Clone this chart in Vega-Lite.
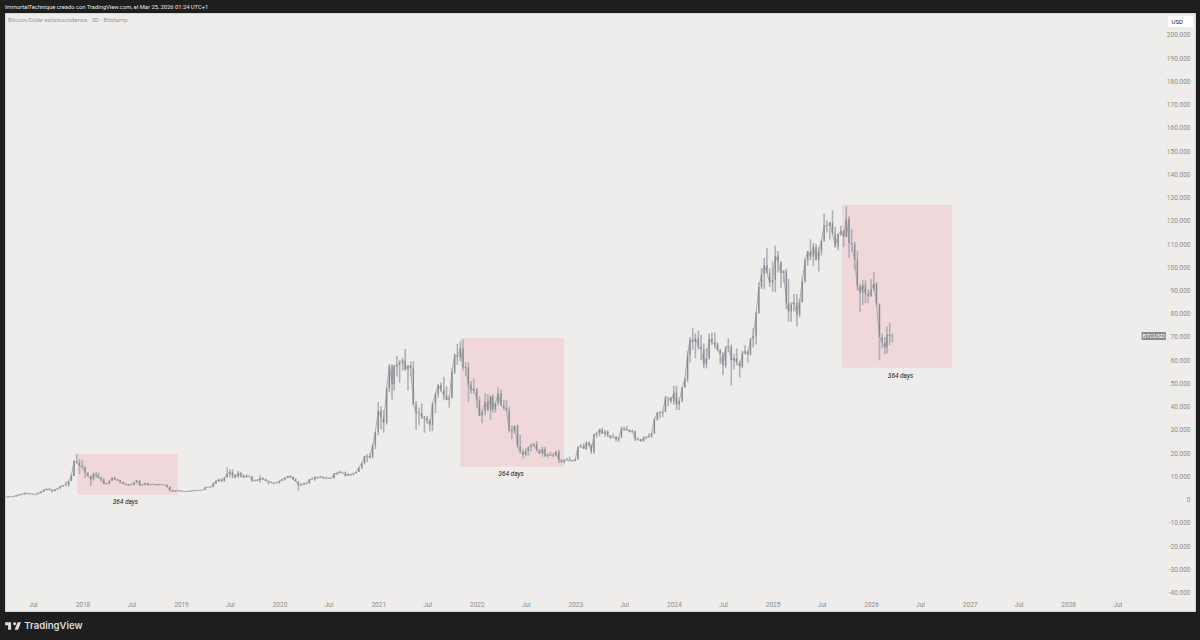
{"$schema":"https://vega.github.io/schema/vega-lite/v6.json","width":1190,"height":598,"autosize":{"type":"none"},"padding":{"left":5,"top":13,"right":5,"bottom":29},"background":"#1e1e1e","view":{"fill":"#eeedeb","stroke":"#d6d6d6","strokeWidth":1},"config":{"axis":{"labelOverlap":false,"labelSeparation":0,"labelBound":false}},"title":{"text":"ImmortalTechnique creado con TradingView.com, el Mar 25, 2026 01:24 UTC+1","anchor":"start","frame":"group","color":"#e8e8e8","font":"Roboto","fontSize":5.8,"fontWeight":"normal","offset":3.5},"datasets":{"candles":[
{"d":"2017-03-21","o":1050,"h":1120,"l":930,"c":1000},{"d":"2017-04-01","o":1000,"h":1210,"l":1000,"c":1190},{"d":"2017-04-11","o":1190,"h":1220,"l":1130,"c":1210},{"d":"2017-04-21","o":1210,"h":1350,"l":1200,"c":1330},{"d":"2017-05-01","o":1330,"h":1800,"l":1320,"c":1780},{"d":"2017-05-11","o":1780,"h":2200,"l":1750,"c":2050},{"d":"2017-05-21","o":2050,"h":2750,"l":1950,"c":2200},{"d":"2017-06-01","o":2200,"h":2950,"l":2200,"c":2780},{"d":"2017-06-11","o":2780,"h":3000,"l":2200,"c":2600},{"d":"2017-06-21","o":2600,"h":2800,"l":2300,"c":2480},{"d":"2017-07-01","o":2480,"h":2650,"l":2250,"c":2350},{"d":"2017-07-11","o":2350,"h":2400,"l":1850,"c":2300},{"d":"2017-07-21","o":2300,"h":2900,"l":2250,"c":2850},{"d":"2017-08-01","o":2850,"h":3450,"l":2650,"c":3400},{"d":"2017-08-11","o":3400,"h":4400,"l":3350,"c":4100},{"d":"2017-08-21","o":4100,"h":4700,"l":3950,"c":4600},{"d":"2017-09-01","o":4600,"h":4980,"l":4100,"c":4200},{"d":"2017-09-11","o":4200,"h":4350,"l":2980,"c":3700},{"d":"2017-09-21","o":3700,"h":4350,"l":3600,"c":4300},{"d":"2017-10-01","o":4300,"h":5000,"l":4200,"c":4800},{"d":"2017-10-11","o":4800,"h":5850,"l":4750,"c":5700},{"d":"2017-10-21","o":5700,"h":6300,"l":5400,"c":6100},{"d":"2017-11-01","o":6100,"h":7800,"l":6000,"c":6400},{"d":"2017-11-11","o":6400,"h":8000,"l":5500,"c":8000},{"d":"2017-11-21","o":8000,"h":10900,"l":8000,"c":10200},{"d":"2017-12-01","o":10200,"h":17000,"l":10000,"c":16500},{"d":"2017-12-11","o":16500,"h":19700,"l":15500,"c":16000},{"d":"2017-12-21","o":16000,"h":17500,"l":11000,"c":14500},
{"d":"2018-01-01","o":14500,"h":17200,"l":13000,"c":14000},{"d":"2018-01-11","o":14000,"h":14400,"l":9200,"c":11500},{"d":"2018-01-21","o":11500,"h":11900,"l":9800,"c":10200},{"d":"2018-02-01","o":10200,"h":10300,"l":6000,"c":8700},{"d":"2018-02-11","o":8700,"h":11700,"l":8200,"c":11000},{"d":"2018-02-21","o":11000,"h":11700,"l":9400,"c":10500},{"d":"2018-03-01","o":10500,"h":11700,"l":9300,"c":9500},{"d":"2018-03-11","o":9500,"h":9900,"l":7700,"c":8600},{"d":"2018-03-21","o":8600,"h":9100,"l":6600,"c":6900},{"d":"2018-04-01","o":6900,"h":7200,"l":6400,"c":6800},{"d":"2018-04-11","o":6800,"h":8200,"l":6700,"c":8000},{"d":"2018-04-21","o":8000,"h":9700,"l":8000,"c":9300},{"d":"2018-05-01","o":9300,"h":9950,"l":8500,"c":8600},{"d":"2018-05-11","o":8600,"h":8900,"l":8000,"c":8400},{"d":"2018-05-21","o":8400,"h":8500,"l":7000,"c":7500},{"d":"2018-06-01","o":7500,"h":7800,"l":6700,"c":6800},{"d":"2018-06-11","o":6800,"h":6800,"l":6100,"c":6700},{"d":"2018-06-21","o":6700,"h":6800,"l":5800,"c":6300},{"d":"2018-07-01","o":6300,"h":6800,"l":6200,"c":6350},{"d":"2018-07-11","o":6350,"h":7500,"l":6100,"c":7400},{"d":"2018-07-21","o":7400,"h":8500,"l":7300,"c":8200},{"d":"2018-08-01","o":8200,"h":8200,"l":6000,"c":6300},{"d":"2018-08-11","o":6300,"h":6600,"l":5900,"c":6300},{"d":"2018-08-21","o":6300,"h":7200,"l":6200,"c":7000},{"d":"2018-09-01","o":7000,"h":7400,"l":6200,"c":6300},{"d":"2018-09-11","o":6300,"h":6600,"l":6100,"c":6500},{"d":"2018-09-21","o":6500,"h":6800,"l":6400,"c":6600},{"d":"2018-10-01","o":6600,"h":6700,"l":6200,"c":6300},{"d":"2018-10-11","o":6300,"h":6900,"l":6200,"c":6450},{"d":"2018-10-21","o":6450,"h":6600,"l":6300,"c":6350},{"d":"2018-11-01","o":6350,"h":6600,"l":6250,"c":6350},{"d":"2018-11-11","o":6350,"h":6450,"l":5300,"c":5500},{"d":"2018-11-21","o":5500,"h":5600,"l":3500,"c":4000},{"d":"2018-12-01","o":4000,"h":4300,"l":3500,"c":3550},{"d":"2018-12-11","o":3550,"h":3900,"l":3200,"c":3850},{"d":"2018-12-21","o":3850,"h":4200,"l":3600,"c":3750},
{"d":"2019-01-01","o":3750,"h":4100,"l":3600,"c":3650},{"d":"2019-01-11","o":3650,"h":3700,"l":3450,"c":3550},{"d":"2019-01-21","o":3550,"h":3650,"l":3400,"c":3450},{"d":"2019-02-01","o":3450,"h":3700,"l":3400,"c":3600},{"d":"2019-02-11","o":3600,"h":3950,"l":3550,"c":3900},{"d":"2019-02-21","o":3900,"h":4200,"l":3700,"c":3850},{"d":"2019-03-01","o":3850,"h":3950,"l":3700,"c":3900},{"d":"2019-03-11","o":3900,"h":4050,"l":3800,"c":4000},{"d":"2019-03-21","o":4000,"h":4150,"l":3950,"c":4100},{"d":"2019-04-01","o":4100,"h":5300,"l":4100,"c":5200},{"d":"2019-04-11","o":5200,"h":5400,"l":4950,"c":5300},{"d":"2019-04-21","o":5300,"h":5650,"l":5200,"c":5400},{"d":"2019-05-01","o":5400,"h":7400,"l":5350,"c":6900},{"d":"2019-05-11","o":6900,"h":8400,"l":6600,"c":8000},{"d":"2019-05-21","o":8000,"h":9000,"l":7600,"c":8600},{"d":"2019-06-01","o":8600,"h":9100,"l":7450,"c":8000},{"d":"2019-06-11","o":8000,"h":9600,"l":7700,"c":9500},{"d":"2019-06-21","o":9500,"h":13900,"l":9500,"c":11000},{"d":"2019-07-01","o":11000,"h":12900,"l":9600,"c":11800},{"d":"2019-07-11","o":11800,"h":13100,"l":9100,"c":10500},{"d":"2019-07-21","o":10500,"h":10900,"l":9200,"c":9700},{"d":"2019-08-01","o":9700,"h":12300,"l":9500,"c":11500},{"d":"2019-08-11","o":11500,"h":12000,"l":9500,"c":10200},{"d":"2019-08-21","o":10200,"h":10900,"l":9400,"c":9600},{"d":"2019-09-01","o":9600,"h":10900,"l":9500,"c":10100},{"d":"2019-09-11","o":10100,"h":10500,"l":9900,"c":10000},{"d":"2019-09-21","o":10000,"h":10100,"l":7700,"c":8200},{"d":"2019-10-01","o":8200,"h":8500,"l":7800,"c":8400},{"d":"2019-10-11","o":8400,"h":8800,"l":7900,"c":8200},{"d":"2019-10-21","o":8200,"h":10500,"l":7300,"c":9200},{"d":"2019-11-01","o":9200,"h":9550,"l":8700,"c":8800},{"d":"2019-11-11","o":8800,"h":9100,"l":8000,"c":8100},{"d":"2019-11-21","o":8100,"h":8100,"l":6550,"c":7600},{"d":"2019-12-01","o":7600,"h":7850,"l":7200,"c":7250},{"d":"2019-12-11","o":7250,"h":7400,"l":6450,"c":7150},{"d":"2019-12-21","o":7150,"h":7600,"l":7050,"c":7200},
{"d":"2020-01-01","o":7200,"h":8200,"l":6850,"c":8000},{"d":"2020-01-11","o":8000,"h":9000,"l":8000,"c":8700},{"d":"2020-01-21","o":8700,"h":9500,"l":8250,"c":9350},{"d":"2020-02-01","o":9350,"h":10200,"l":9150,"c":10100},{"d":"2020-02-11","o":10100,"h":10500,"l":9500,"c":9700},{"d":"2020-02-21","o":9700,"h":10000,"l":8500,"c":8600},{"d":"2020-03-01","o":8600,"h":9200,"l":7600,"c":7900},{"d":"2020-03-11","o":7900,"h":7950,"l":3850,"c":6200},{"d":"2020-03-21","o":6200,"h":7000,"l":5700,"c":6400},{"d":"2020-04-01","o":6400,"h":7200,"l":6200,"c":6900},{"d":"2020-04-11","o":6900,"h":7200,"l":6500,"c":7100},{"d":"2020-04-21","o":7100,"h":8800,"l":6800,"c":8700},{"d":"2020-05-01","o":8700,"h":9500,"l":8400,"c":8700},{"d":"2020-05-11","o":8700,"h":9900,"l":8100,"c":9700},{"d":"2020-05-21","o":9700,"h":9700,"l":8800,"c":9500},{"d":"2020-06-01","o":9500,"h":10300,"l":9300,"c":9800},{"d":"2020-06-11","o":9800,"h":9950,"l":9000,"c":9350},{"d":"2020-06-21","o":9350,"h":9800,"l":8900,"c":9150},{"d":"2020-07-01","o":9150,"h":9450,"l":8900,"c":9250},{"d":"2020-07-11","o":9250,"h":9400,"l":9050,"c":9200},{"d":"2020-07-21","o":9200,"h":11400,"l":9200,"c":11100},{"d":"2020-08-01","o":11100,"h":12000,"l":10600,"c":11400},{"d":"2020-08-11","o":11400,"h":12450,"l":11100,"c":11800},{"d":"2020-08-21","o":11800,"h":12000,"l":11200,"c":11700},{"d":"2020-09-01","o":11700,"h":12050,"l":10000,"c":10300},{"d":"2020-09-11","o":10300,"h":11200,"l":10200,"c":10900},{"d":"2020-09-21","o":10900,"h":10950,"l":10150,"c":10800},{"d":"2020-10-01","o":10800,"h":11450,"l":10450,"c":11300},{"d":"2020-10-11","o":11300,"h":12000,"l":11200,"c":11900},{"d":"2020-10-21","o":11900,"h":13850,"l":11900,"c":13800},{"d":"2020-11-01","o":13800,"h":16000,"l":13200,"c":15700},{"d":"2020-11-11","o":15700,"h":18800,"l":15200,"c":18600},{"d":"2020-11-21","o":18600,"h":19500,"l":16200,"c":18800},{"d":"2020-12-01","o":18800,"h":19900,"l":17600,"c":18300},{"d":"2020-12-11","o":18300,"h":24000,"l":17650,"c":23400},{"d":"2020-12-21","o":23400,"h":29000,"l":21800,"c":29000},
{"d":"2021-01-01","o":29000,"h":42000,"l":27700,"c":38200},{"d":"2021-01-11","o":38200,"h":40100,"l":30300,"c":35500},{"d":"2021-01-21","o":35500,"h":38500,"l":28800,"c":33100},{"d":"2021-02-01","o":33100,"h":48200,"l":32300,"c":47900},{"d":"2021-02-11","o":47900,"h":58400,"l":46200,"c":57500},{"d":"2021-02-21","o":57500,"h":58300,"l":43000,"c":49600},{"d":"2021-03-01","o":49600,"h":58000,"l":47000,"c":57300},{"d":"2021-03-11","o":57300,"h":61800,"l":53000,"c":58000},{"d":"2021-03-21","o":58000,"h":60000,"l":50400,"c":59000},{"d":"2021-04-01","o":59000,"h":61000,"l":55500,"c":60000},{"d":"2021-04-11","o":60000,"h":64900,"l":55500,"c":56000},{"d":"2021-04-21","o":56000,"h":57800,"l":47000,"c":57700},{"d":"2021-05-01","o":57700,"h":59500,"l":52900,"c":56700},{"d":"2021-05-11","o":56700,"h":59600,"l":40700,"c":41000},{"d":"2021-05-21","o":41000,"h":42400,"l":30000,"c":37300},{"d":"2021-06-01","o":37300,"h":39500,"l":32000,"c":37300},{"d":"2021-06-11","o":37300,"h":41300,"l":34700,"c":35600},{"d":"2021-06-21","o":35600,"h":36000,"l":28800,"c":35000},{"d":"2021-07-01","o":35000,"h":36000,"l":32700,"c":34200},{"d":"2021-07-11","o":34200,"h":34700,"l":29300,"c":32200},{"d":"2021-07-21","o":32200,"h":41500,"l":29500,"c":41500},{"d":"2021-08-01","o":41500,"h":46000,"l":37300,"c":45600},{"d":"2021-08-11","o":45600,"h":49800,"l":44000,"c":49300},{"d":"2021-08-21","o":49300,"h":50400,"l":46400,"c":47100},{"d":"2021-09-01","o":47100,"h":52900,"l":42800,"c":44900},{"d":"2021-09-11","o":44900,"h":48800,"l":42800,"c":43000},{"d":"2021-09-21","o":43000,"h":45000,"l":39600,"c":43800},{"d":"2021-10-01","o":43800,"h":56500,"l":43500,"c":54900},{"d":"2021-10-11","o":54900,"h":62900,"l":54000,"c":62100},{"d":"2021-10-21","o":62100,"h":67000,"l":58000,"c":61300},{"d":"2021-11-01","o":61300,"h":68000,"l":59500,"c":65000},{"d":"2021-11-11","o":65000,"h":69000,"l":55600,"c":56900},{"d":"2021-11-21","o":56900,"h":59000,"l":53300,"c":57000},{"d":"2021-12-01","o":57000,"h":59200,"l":42000,"c":49400},{"d":"2021-12-11","o":49400,"h":51000,"l":45600,"c":47000},{"d":"2021-12-21","o":47000,"h":52100,"l":45600,"c":47700},
{"d":"2022-01-01","o":47700,"h":47900,"l":39600,"c":42800},{"d":"2022-01-11","o":42800,"h":44400,"l":36000,"c":36100},{"d":"2022-01-21","o":36100,"h":39000,"l":32900,"c":37900},{"d":"2022-02-01","o":37900,"h":45800,"l":36200,"c":42300},{"d":"2022-02-11","o":42300,"h":45400,"l":38000,"c":38700},{"d":"2022-02-21","o":38700,"h":44800,"l":34300,"c":44400},{"d":"2022-03-01","o":44400,"h":45400,"l":37600,"c":38700},{"d":"2022-03-11","o":38700,"h":42000,"l":37500,"c":41500},{"d":"2022-03-21","o":41500,"h":48200,"l":40500,"c":45800},{"d":"2022-04-01","o":45800,"h":47400,"l":40300,"c":40500},{"d":"2022-04-11","o":40500,"h":42900,"l":38500,"c":39400},{"d":"2022-04-21","o":39400,"h":42900,"l":37600,"c":38500},{"d":"2022-05-01","o":38500,"h":40000,"l":29000,"c":30000},{"d":"2022-05-11","o":30000,"h":32000,"l":26000,"c":29400},{"d":"2022-05-21","o":29400,"h":31900,"l":28300,"c":31800},{"d":"2022-06-01","o":31800,"h":32400,"l":22500,"c":23000},{"d":"2022-06-11","o":23000,"h":28000,"l":20000,"c":20500},{"d":"2022-06-21","o":20500,"h":21900,"l":17600,"c":19200},{"d":"2022-07-01","o":19200,"h":22000,"l":18600,"c":20900},{"d":"2022-07-11","o":20900,"h":22500,"l":18900,"c":22500},{"d":"2022-07-21","o":22500,"h":24300,"l":20700,"c":23300},{"d":"2022-08-01","o":23300,"h":24300,"l":22500,"c":23900},{"d":"2022-08-11","o":23900,"h":25200,"l":20800,"c":21100},{"d":"2022-08-21","o":21100,"h":21800,"l":19600,"c":19800},{"d":"2022-09-01","o":19800,"h":22800,"l":18500,"c":21800},{"d":"2022-09-11","o":21800,"h":22800,"l":18300,"c":18900},{"d":"2022-09-21","o":18900,"h":19900,"l":18100,"c":19300},{"d":"2022-10-01","o":19300,"h":20500,"l":18900,"c":19100},{"d":"2022-10-11","o":19100,"h":19900,"l":18200,"c":19000},{"d":"2022-10-21","o":19000,"h":21000,"l":18700,"c":20600},{"d":"2022-11-01","o":20600,"h":21500,"l":15600,"c":17000},{"d":"2022-11-11","o":17000,"h":17600,"l":15800,"c":16300},{"d":"2022-11-21","o":16300,"h":17200,"l":15500,"c":17000},{"d":"2022-12-01","o":17000,"h":18000,"l":16700,"c":17100},{"d":"2022-12-11","o":17100,"h":18400,"l":16500,"c":16800},{"d":"2022-12-21","o":16800,"h":17100,"l":16300,"c":16600},
{"d":"2023-01-01","o":16600,"h":17500,"l":16500,"c":17400},{"d":"2023-01-11","o":17400,"h":22700,"l":17300,"c":22700},{"d":"2023-01-21","o":22700,"h":23800,"l":22300,"c":23100},{"d":"2023-02-01","o":23100,"h":24200,"l":21800,"c":21800},{"d":"2023-02-11","o":21800,"h":25200,"l":21400,"c":24500},{"d":"2023-02-21","o":24500,"h":25000,"l":22800,"c":23500},{"d":"2023-03-01","o":23500,"h":23900,"l":19600,"c":20600},{"d":"2023-03-11","o":20600,"h":28500,"l":19600,"c":27900},{"d":"2023-03-21","o":27900,"h":29200,"l":26600,"c":28500},{"d":"2023-04-01","o":28500,"h":30500,"l":27200,"c":30200},{"d":"2023-04-11","o":30200,"h":31000,"l":28300,"c":28400},{"d":"2023-04-21","o":28400,"h":30000,"l":27000,"c":29200},{"d":"2023-05-01","o":29200,"h":29800,"l":26800,"c":27700},{"d":"2023-05-11","o":27700,"h":27800,"l":26000,"c":26800},{"d":"2023-05-21","o":26800,"h":28400,"l":26400,"c":27100},{"d":"2023-06-01","o":27100,"h":27400,"l":25000,"c":25900},{"d":"2023-06-11","o":25900,"h":26800,"l":24800,"c":26800},{"d":"2023-06-21","o":26800,"h":31400,"l":26600,"c":30500},{"d":"2023-07-01","o":30500,"h":31500,"l":29500,"c":30400},{"d":"2023-07-11","o":30400,"h":31800,"l":29700,"c":30000},{"d":"2023-07-21","o":30000,"h":30300,"l":29000,"c":29200},{"d":"2023-08-01","o":29200,"h":30200,"l":28700,"c":29400},{"d":"2023-08-11","o":29400,"h":29700,"l":25200,"c":26000},{"d":"2023-08-21","o":26000,"h":26800,"l":25400,"c":26100},{"d":"2023-09-01","o":26100,"h":26100,"l":24900,"c":25100},{"d":"2023-09-11","o":25100,"h":27200,"l":25000,"c":26600},{"d":"2023-09-21","o":26600,"h":27000,"l":26000,"c":26900},{"d":"2023-10-01","o":26900,"h":28600,"l":26600,"c":27400},{"d":"2023-10-11","o":27400,"h":28500,"l":26500,"c":28500},{"d":"2023-10-21","o":28500,"h":35000,"l":28400,"c":34500},{"d":"2023-11-01","o":34500,"h":37900,"l":34000,"c":37300},{"d":"2023-11-11","o":37300,"h":38000,"l":35000,"c":37400},{"d":"2023-11-21","o":37400,"h":38400,"l":35600,"c":37700},{"d":"2023-12-01","o":37700,"h":44700,"l":37600,"c":43800},{"d":"2023-12-11","o":43800,"h":44000,"l":40200,"c":44000},{"d":"2023-12-21","o":44000,"h":44300,"l":41500,"c":42300},
{"d":"2024-01-01","o":42300,"h":49000,"l":40800,"c":46100},{"d":"2024-01-11","o":46100,"h":48900,"l":38500,"c":41000},{"d":"2024-01-21","o":41000,"h":44000,"l":38500,"c":42500},{"d":"2024-02-01","o":42500,"h":48500,"l":41800,"c":48300},{"d":"2024-02-11","o":48300,"h":52800,"l":48100,"c":51800},{"d":"2024-02-21","o":51800,"h":64000,"l":50500,"c":62400},{"d":"2024-03-01","o":62400,"h":70000,"l":59000,"c":68800},{"d":"2024-03-11","o":68800,"h":73800,"l":64500,"c":67800},{"d":"2024-03-21","o":67800,"h":71500,"l":60800,"c":69500},{"d":"2024-04-01","o":69500,"h":72700,"l":64500,"c":65800},{"d":"2024-04-11","o":65800,"h":71000,"l":60000,"c":64800},{"d":"2024-04-21","o":64800,"h":67200,"l":56500,"c":58200},{"d":"2024-05-01","o":58200,"h":65000,"l":56500,"c":61000},{"d":"2024-05-11","o":61000,"h":71500,"l":60200,"c":69200},{"d":"2024-05-21","o":69200,"h":71900,"l":66600,"c":67700},{"d":"2024-06-01","o":67700,"h":71900,"l":65000,"c":66700},{"d":"2024-06-11","o":66700,"h":67800,"l":64000,"c":64300},{"d":"2024-06-21","o":64300,"h":65000,"l":58400,"c":62700},{"d":"2024-07-01","o":62700,"h":63500,"l":53500,"c":57800},{"d":"2024-07-11","o":57800,"h":66000,"l":56600,"c":65500},{"d":"2024-07-21","o":65500,"h":69500,"l":63500,"c":66000},{"d":"2024-08-01","o":66000,"h":66800,"l":49000,"c":60000},{"d":"2024-08-11","o":60000,"h":62700,"l":56000,"c":61000},{"d":"2024-08-21","o":61000,"h":65000,"l":57800,"c":59100},{"d":"2024-09-01","o":59100,"h":59800,"l":52500,"c":57300},{"d":"2024-09-11","o":57300,"h":64000,"l":56500,"c":63000},{"d":"2024-09-21","o":63000,"h":66500,"l":62300,"c":63800},{"d":"2024-10-01","o":63800,"h":64500,"l":58900,"c":62500},{"d":"2024-10-11","o":62500,"h":69500,"l":62000,"c":69000},{"d":"2024-10-21","o":69000,"h":73600,"l":65500,"c":70300},{"d":"2024-11-01","o":70300,"h":81000,"l":66800,"c":80300},{"d":"2024-11-11","o":80300,"h":93500,"l":80000,"c":91500},{"d":"2024-11-21","o":91500,"h":99800,"l":90700,"c":97000},{"d":"2024-12-01","o":97000,"h":104000,"l":90500,"c":101000},{"d":"2024-12-11","o":101000,"h":108300,"l":97300,"c":97500},{"d":"2024-12-21","o":97500,"h":99500,"l":91500,"c":93500},
{"d":"2025-01-01","o":93500,"h":102500,"l":89500,"c":94500},{"d":"2025-01-11","o":94500,"h":109400,"l":89200,"c":105000},{"d":"2025-01-21","o":105000,"h":107000,"l":97800,"c":102400},{"d":"2025-02-01","o":102400,"h":102500,"l":91200,"c":97500},{"d":"2025-02-11","o":97500,"h":98800,"l":93500,"c":98300},{"d":"2025-02-21","o":98300,"h":99500,"l":82000,"c":84500},{"d":"2025-03-01","o":84500,"h":95000,"l":76600,"c":81000},{"d":"2025-03-11","o":81000,"h":85000,"l":76500,"c":84000},{"d":"2025-03-21","o":84000,"h":88500,"l":81000,"c":85000},{"d":"2025-04-01","o":85000,"h":88500,"l":74500,"c":79500},{"d":"2025-04-11","o":79500,"h":86500,"l":78500,"c":85200},{"d":"2025-04-21","o":85200,"h":95700,"l":84800,"c":94000},{"d":"2025-05-01","o":94000,"h":104000,"l":93300,"c":103000},{"d":"2025-05-11","o":103000,"h":107000,"l":100700,"c":106800},{"d":"2025-05-21","o":106800,"h":112000,"l":103000,"c":104500},{"d":"2025-06-01","o":104500,"h":110400,"l":100500,"c":109000},{"d":"2025-06-11","o":109000,"h":110000,"l":102800,"c":103300},{"d":"2025-06-21","o":103300,"h":108800,"l":98200,"c":107000},{"d":"2025-07-01","o":107000,"h":112000,"l":105100,"c":111500},{"d":"2025-07-11","o":111500,"h":123200,"l":111000,"c":118000},{"d":"2025-07-21","o":118000,"h":120300,"l":115000,"c":117800},{"d":"2025-08-01","o":117800,"h":119500,"l":112000,"c":119200},{"d":"2025-08-11","o":119200,"h":124500,"l":114000,"c":114500},{"d":"2025-08-21","o":114500,"h":117400,"l":108500,"c":109000},{"d":"2025-09-01","o":109000,"h":114500,"l":107300,"c":114300},{"d":"2025-09-11","o":114300,"h":117900,"l":113500,"c":115700},{"d":"2025-09-21","o":115700,"h":116000,"l":108600,"c":113000},{"d":"2025-10-01","o":113000,"h":126200,"l":113000,"c":121000},{"d":"2025-10-11","o":121000,"h":122000,"l":104000,"c":110500},{"d":"2025-10-21","o":110500,"h":116500,"l":106500,"c":110000},{"d":"2025-11-01","o":110000,"h":111000,"l":98900,"c":103000},{"d":"2025-11-11","o":103000,"h":107000,"l":90000,"c":92000},{"d":"2025-11-21","o":92000,"h":93000,"l":80600,"c":89000},{"d":"2025-12-01","o":89000,"h":94500,"l":83800,"c":92500},{"d":"2025-12-11","o":92500,"h":94500,"l":84500,"c":88500},{"d":"2025-12-21","o":88500,"h":90500,"l":84500,"c":87500},
{"d":"2026-01-01","o":87500,"h":94800,"l":87200,"c":90500},{"d":"2026-01-11","o":90500,"h":97900,"l":89800,"c":93000},{"d":"2026-01-21","o":93000,"h":93500,"l":83500,"c":84000},{"d":"2026-02-01","o":84000,"h":84500,"l":60000,"c":70000},{"d":"2026-02-11","o":70000,"h":71500,"l":65000,"c":67500},{"d":"2026-02-21","o":67500,"h":70000,"l":62500,"c":65500},{"d":"2026-03-01","o":65500,"h":74500,"l":63000,"c":71000},{"d":"2026-03-11","o":71000,"h":76000,"l":66500,"c":70500},{"d":"2026-03-21","o":70500,"h":71500,"l":67500,"c":70400}
]},"layer":[
{"data":{"values":[{"start":"2017-12-14","end":"2018-12-20","top":19630,"bottom":2110},{"start":"2021-11-01","end":"2022-11-20","top":69570,"bottom":14160},{"start":"2025-09-16","end":"2026-10-27","top":126950,"bottom":56780}]},"mark":{"type":"rect","fill":"#efd7da"},"encoding":{"x":{"field":"start","type":"temporal","title":null,"scale":{"type":"utc","domain":["2017-03-20","2029-04-15"]},"axis":{"values":["2017-07-01","2018-01-01","2018-07-01","2019-01-01","2019-07-01","2020-01-01","2020-07-01","2021-01-01","2021-07-01","2022-01-01","2022-07-01","2023-01-01","2023-07-01","2024-01-01","2024-07-01","2025-01-01","2025-07-01","2026-01-01","2026-07-01","2027-01-01","2027-07-01","2028-01-01","2028-07-01"],"labelExpr":"utcmonth(datum.value)==0?utcFormat(datum.value,'%Y'):'Jul'","grid":false,"ticks":false,"domain":false,"offset":-7,"labelPadding":0,"labelBaseline":"middle","labelColor":"#8c8c8c","labelFont":"Roboto","labelFontSize":6.5,"labelOverlap":false,"labelFlush":false}},"x2":{"field":"end"},"y":{"field":"top","type":"quantitative","title":null,"scale":{"domain":[-47960,209470],"nice":false,"zero":false},"axis":{"orient":"right","tickCount":26,"values":[-40000,-30000,-20000,-10000,0,10000,20000,30000,40000,50000,60000,70000,80000,90000,100000,110000,120000,130000,140000,150000,160000,170000,180000,190000,200000],"labelExpr":"replace(replace(format(datum.value,','),/,/g,'.'),'−','-')","grid":false,"ticks":false,"domain":false,"labelAlign":"right","labelPadding":-5,"labelBaseline":"middle","labelColor":"#8c8c8c","labelFont":"Roboto","labelFontSize":6.5,"labelOverlap":false,"labelFlush":false}},"y2":{"field":"bottom"}}},
{"data":{"name":"candles"},"mark":{"type":"line","color":"#9a9ca2","strokeWidth":0.8},"encoding":{"x":{"field":"d","type":"temporal"},"y":{"field":"c","type":"quantitative"}}},
{"data":{"name":"candles"},"mark":{"type":"rule","color":"#aeb0b5","strokeWidth":1.6},"encoding":{"x":{"field":"d","type":"temporal"},"y":{"field":"l","type":"quantitative"},"y2":{"field":"h"}}},
{"data":{"name":"candles"},"mark":{"type":"rule","color":"#888a92","strokeWidth":1.2},"encoding":{"x":{"field":"d","type":"temporal"},"y":{"field":"o","type":"quantitative"},"y2":{"field":"c"}}},
{"data":{"values":[{"d":"2018-06-09","v":-1200},{"d":"2022-05-08","v":11050},{"d":"2026-04-20","v":53400}]},"mark":{"type":"text","text":"364 days","font":"Roboto","fontStyle":"italic","fontSize":6.5,"color":"#1a1a1a","baseline":"middle"},"encoding":{"x":{"field":"d","type":"temporal"},"y":{"field":"v","type":"quantitative"}}},
{"data":{"values":[{"d":"2017-03-31","v":206470,"t":"Bitcoin/Dólar estadounidense · 3D · Bitstamp"}]},"mark":{"type":"text","font":"Roboto","fontSize":6,"color":"#9a9a9a","align":"left","baseline":"middle"},"encoding":{"x":{"field":"d","type":"temporal"},"y":{"field":"v","type":"quantitative"},"text":{"field":"t"}}},
{"data":{"values":[{"start":"2029-01-05","end":"2029-04-08","top":208200,"bottom":203450}]},"mark":{"type":"rect","fill":"#ffffff"},"encoding":{"x":{"field":"start","type":"temporal"},"x2":{"field":"end"},"y":{"field":"top","type":"quantitative"},"y2":{"field":"bottom"}}},
{"data":{"values":[{"start":"2028-09-29","end":"2028-12-28","top":72150,"bottom":68700}]},"mark":{"type":"rect","fill":"#8b8b90"},"encoding":{"x":{"field":"start","type":"temporal"},"x2":{"field":"end"},"y":{"field":"top","type":"quantitative"},"y2":{"field":"bottom"}}},
{"data":{"values":[{"d":"2029-02-08","v":205800,"t":"USD"}]},"mark":{"type":"text","font":"Roboto","fontSize":6,"color":"#1a1a1a","align":"center","baseline":"middle"},"encoding":{"x":{"field":"d","type":"temporal"},"y":{"field":"v","type":"quantitative"},"text":{"field":"t"}}},
{"data":{"values":[{"d":"2028-11-13","v":70400,"t":"BTCUSD"}]},"mark":{"type":"text","font":"Roboto","fontSize":6,"color":"#ffffff","align":"center","baseline":"middle"},"encoding":{"x":{"field":"d","type":"temporal"},"y":{"field":"v","type":"quantitative"},"text":{"field":"t"}}},
{"data":{"values":[{"d":"2017-05-30","v":-54400,"t":"TradingView"}]},"mark":{"type":"text","font":"Inter","fontSize":9.6,"fontWeight":600,"color":"#dcdcdc","align":"left","baseline":"middle","clip":false},"encoding":{"x":{"field":"d","type":"temporal"},"y":{"field":"v","type":"quantitative"},"text":{"field":"t"}}},
{"data":{"values":[{"d":"2017-04-19","v":-54400}]},"mark":{"type":"point","filled":true,"opacity":1,"color":"#dcdcdc","size":1296,"shape":"M-0.111,-0.208 L-0.444,-0.208 L-0.444,-0.042 L-0.278,-0.042 L-0.278,0.208 L-0.111,0.208 Z M0.278,0.208 L0.083,0.208 L0.25,-0.208 L0.444,-0.208 Z M0,-0.125 A0.083,0.083 0 1 0 0.166,-0.125 A0.083,0.083 0 1 0 0,-0.125 Z"},"encoding":{"x":{"field":"d","type":"temporal"},"y":{"field":"v","type":"quantitative"}}}
]}
